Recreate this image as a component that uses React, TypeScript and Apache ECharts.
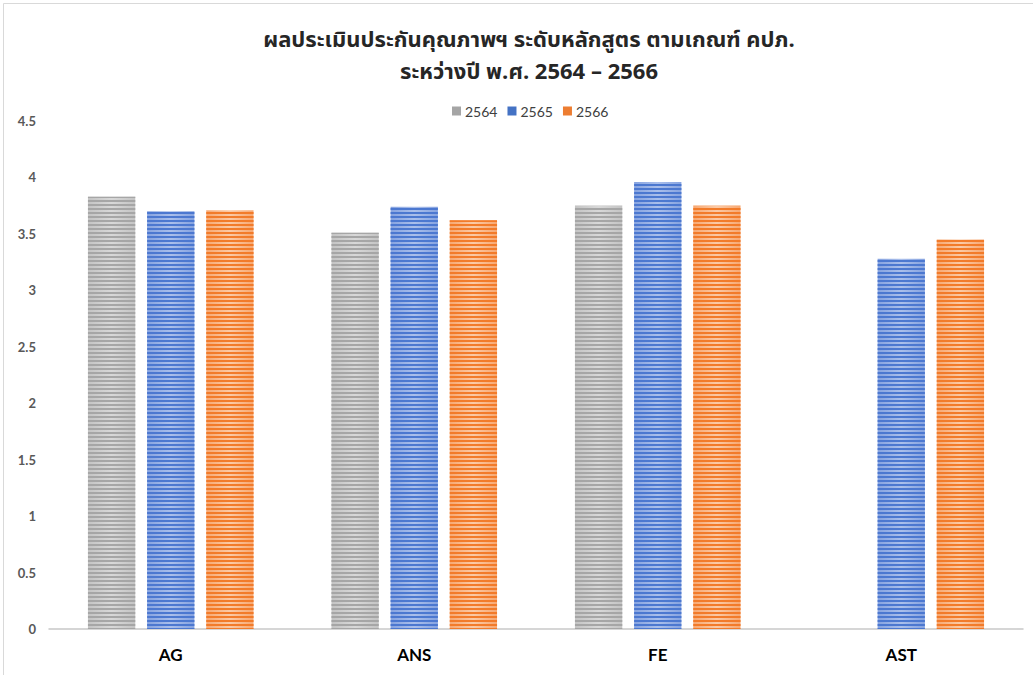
import React, { useEffect, useRef } from "react";
import * as echarts from "echarts";

const categories = ["AG", "ANS", "FE", "AST"];
const years = ["2564", "2565", "2566"];
const values2564: (number | null)[] = [3.83, 3.51, 3.75, null];
const values2565: (number | null)[] = [3.7, 3.74, 3.96, 3.28];
const values2566: (number | null)[] = [3.71, 3.62, 3.75, 3.45];
const yTicks = { min: 0, max: 4.5, interval: 0.5 };
const titleLines = ["ผลประเมินประกันคุณภาพฯ ระดับหลักสูตร ตามเกณฑ์ คปภ.", "ระหว่างปี พ.ศ. 2564 – 2566"];

const palette = [
  { solid: "#a5a5a5", light: "#d8d8d8", mid: "#c4c4c4", stripe: "#a6a6a6" },
  { solid: "#4472c4", light: "#aabfeb", mid: "#86a3e0", stripe: "#4c78d0" },
  { solid: "#ed7d31", light: "#fbcaa6", mid: "#f7a872", stripe: "#f27b2a" },
];

export default function App() {
  const ref = useRef<HTMLDivElement>(null);
  useEffect(() => {
    if (!ref.current) return;
    const chart = echarts.init(ref.current, undefined, { renderer: "svg" });
    const data = [values2564, values2565, values2566];
    const titleStyle = {
      fontFamily: "'Noto Sans Thai', 'DejaVu Sans', sans-serif",
      fontSize: 22,
      fontWeight: "bold",
      color: "#262626",
    };
    chart.setOption({
      animation: false,
      aria: { enabled: true, decal: { show: true } },
      title: [
        { text: titleLines[0], left: 524, textAlign: "center", top: 24, textStyle: titleStyle },
        { text: titleLines[1], left: 524, textAlign: "center", top: 56, textStyle: titleStyle },
      ],
      legend: {
        top: 99,
        left: 447,
        itemWidth: 9,
        itemHeight: 9,
        itemGap: 10,
        icon: "rect",
        textStyle: { fontFamily: "Lato, 'Open Sans', sans-serif", fontSize: 14, color: "#404040", padding: [0, 0, 0, -1] },
        data: years.map((y, i) => ({ name: y, itemStyle: { color: palette[i].solid, decal: "none" } })),
      },
      grid: { left: 49, right: 10, top: 121, bottom: 46 },
      xAxis: {
        type: "category",
        data: categories,
        axisLine: { lineStyle: { color: "#c8c8c8", width: 1.5 } },
        axisTick: { show: false },
        axisLabel: { fontFamily: "Lato, 'Open Sans', sans-serif", fontSize: 17, fontWeight: "bold", color: "#000", margin: 17 },
      },
      yAxis: {
        type: "value",
        min: yTicks.min,
        max: yTicks.max,
        interval: yTicks.interval,
        splitLine: { show: false },
        axisLine: { show: false },
        axisTick: { show: false },
        axisLabel: { fontFamily: "Lato, 'Open Sans', sans-serif", fontSize: 13, fontWeight: "bold", color: "#595959", margin: 13 },
      },
      graphic: [
        {
          type: "rect",
          shape: { x: 3.5, y: 3.5, width: 1100, height: 1000 },
          style: { fill: "none", stroke: "#d9d9d9", lineWidth: 1 },
          silent: true,
        },
      ],
      series: years.map((y, i) => ({
        name: y,
        type: "bar",
        data: data[i],
        barGap: "25%",
        barCategoryGap: "32%",
        itemStyle: {
          color: {
            type: "linear",
            x: 0,
            y: 0,
            x2: 1,
            y2: 0,
            colorStops: [
              { offset: 0, color: palette[i].mid },
              { offset: 0.5, color: palette[i].light },
              { offset: 1, color: palette[i].mid },
            ],
          },
          decal: {
            symbol: "rect",
            symbolSize: 1,
            dashArrayX: [1, 0],
            dashArrayY: [1.5, 1.5],
            rotation: 0,
            color: palette[i].stripe,
          },
        },
      })),
    });
    return () => chart.dispose();
  }, []);
  return (
    <div style={{ position: "absolute", left: 0, top: 0, width: 1033, height: 675, background: "#fff" }}>
      <div ref={ref} style={{ width: 1033, height: 675 }} />
    </div>
  );
}
